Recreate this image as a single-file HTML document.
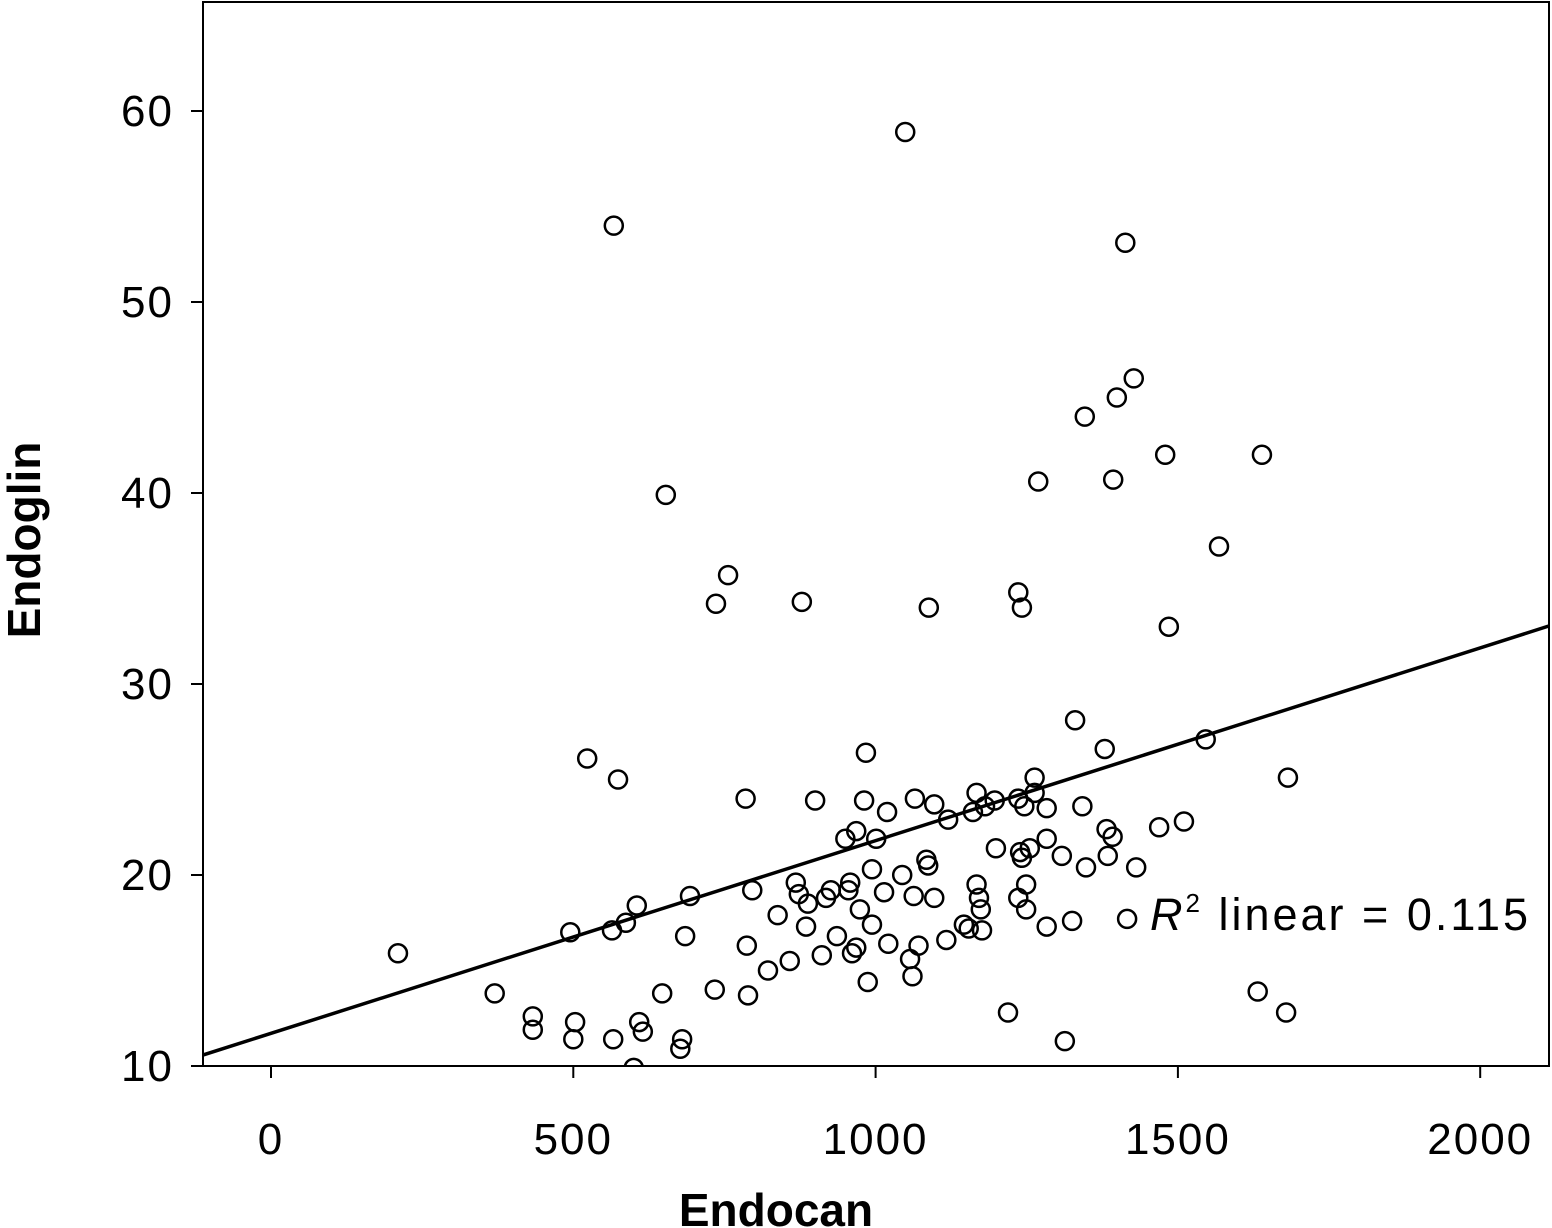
<!DOCTYPE html>
<html><head><meta charset="utf-8"><style>
html,body{margin:0;padding:0;background:#fff;}
svg{display:block;font-family:"Liberation Sans","DejaVu Sans",sans-serif;}
</style></head><body>
<svg id="chart" width="1552" height="1228" viewBox="0 0 1552 1228">
<defs><clipPath id="plotclip"><rect x="203" y="2" width="1346" height="1064"/></clipPath></defs>
<rect x="203" y="2" width="1346" height="1064" fill="#fff" stroke="#000" stroke-width="2"/>
<g id="axes"></g>
<g id="points" clip-path="url(#plotclip)"></g>
<text x="1150" y="930" font-size="45" letter-spacing="3" fill="#000"><tspan font-style="italic">R</tspan><tspan font-size="26" dy="-18">2</tspan><tspan dy="18"> linear = 0.115</tspan></text>
<text transform="translate(40,540) rotate(-90)" text-anchor="middle" font-size="46" font-weight="bold" fill="#000">Endoglin</text>
<text x="776" y="1226" text-anchor="middle" font-size="46" font-weight="bold" fill="#000">Endocan</text>
</svg>
<script>
const xTicks = [0, 500, 1000, 1500, 2000];
const yTicks = [10, 20, 30, 40, 50, 60];
const endocan = [1049,567,1413,1427,1399,1346,653,1269,1393,1479,1639,1568,756,736,878,1088,1236,1242,1485,1330,1379,1546,523,574,1682,984,785,900,981,1065,1097,1019,1120,1167,1161,1181,1197,1263,1263,1236,1246,1283,1342,1382,1392,1469,1510,950,968,1001,1084,1087,1199,1239,1242,1255,1283,1308,1348,1384,1431,994,1044,868,958,926,955,873,1014,796,693,605,888,918,1063,1097,1167,1171,1249,1236,1174,1249,974,495,564,587,838,885,994,1146,1154,1176,1283,1325,1416,685,787,936,968,1021,1071,1117,911,961,858,822,1057,1061,987,210,370,647,734,789,1632,1679,1219,433,433,503,609,615,500,566,680,677,600,1313];
const endoglin = [58.9,54.0,53.1,46.0,45.0,44.0,39.9,40.6,40.7,42.0,42.0,37.2,35.7,34.2,34.3,34.0,34.8,34.0,33.0,28.1,26.6,27.1,26.1,25.0,25.1,26.4,24.0,23.9,23.9,24.0,23.7,23.3,22.9,24.3,23.3,23.6,23.9,25.1,24.3,24.0,23.6,23.5,23.6,22.4,22.0,22.5,22.8,21.9,22.3,21.9,20.8,20.5,21.4,21.2,20.9,21.4,21.9,21.0,20.4,21.0,20.4,20.3,20.0,19.6,19.6,19.2,19.2,19.0,19.1,19.2,18.9,18.4,18.5,18.8,18.9,18.8,19.5,18.8,19.5,18.8,18.2,18.2,18.2,17.0,17.1,17.5,17.9,17.3,17.4,17.4,17.2,17.1,17.3,17.6,17.7,16.8,16.3,16.8,16.2,16.4,16.3,16.6,15.8,15.9,15.5,15.0,15.6,14.7,14.4,15.9,13.8,13.8,14.0,13.7,13.9,12.8,12.8,12.6,11.9,12.3,12.3,11.8,11.4,11.4,11.4,10.9,9.9,11.3];
const fitIntercept = 11.71;
const fitSlope = 0.01009;
const xDomain = [-112, 2114];
const yDomain = [10, 65.7];

const NS = "http://www.w3.org/2000/svg";
function sx(v){ return 271 + v * 0.6046; }
function sy(v){ return 1066 - (v - 10) * 19.1; }
function mk(tag, attrs, parent){ const e = document.createElementNS(NS, tag); for (const k in attrs) e.setAttribute(k, attrs[k]); parent.appendChild(e); return e; }
const axes = document.getElementById("axes");
const pts = document.getElementById("points");

xTicks.forEach(t => {
  const l = mk("line", {x1: sx(t), x2: sx(t), y1: 1066, y2: 1078, stroke: "#000", "stroke-width": 2}, axes);
  
  
  const tx = mk("text", {x: sx(t), y: 1154, "text-anchor": "middle", "font-size": 44, "letter-spacing": 2}, axes);
  tx.textContent = t;
  
  
});
yTicks.forEach(t => {
  const l = mk("line", {x1: 191, x2: 203, y1: sy(t), y2: sy(t), stroke: "#000", "stroke-width": 2}, axes);
  
  
  const tx = mk("text", {x: 174, y: sy(t) + 15, "text-anchor": "end", "font-size": 44, "letter-spacing": 2}, axes);
  tx.textContent = t;
  
  
});

endocan.forEach((xv, i) => {
  const c = mk("circle", {cx: sx(xv), cy: sy(endoglin[i]), r: 9, fill: "none", stroke: "#000", "stroke-width": 2.5}, pts);
  
  
});

const fit = mk("line", {x1: sx(xDomain[0]), y1: sy(fitIntercept + fitSlope * xDomain[0]), x2: sx(xDomain[1]), y2: sy(fitIntercept + fitSlope * xDomain[1]), stroke: "#000", "stroke-width": 3.5}, pts);


</script>
</body></html>
